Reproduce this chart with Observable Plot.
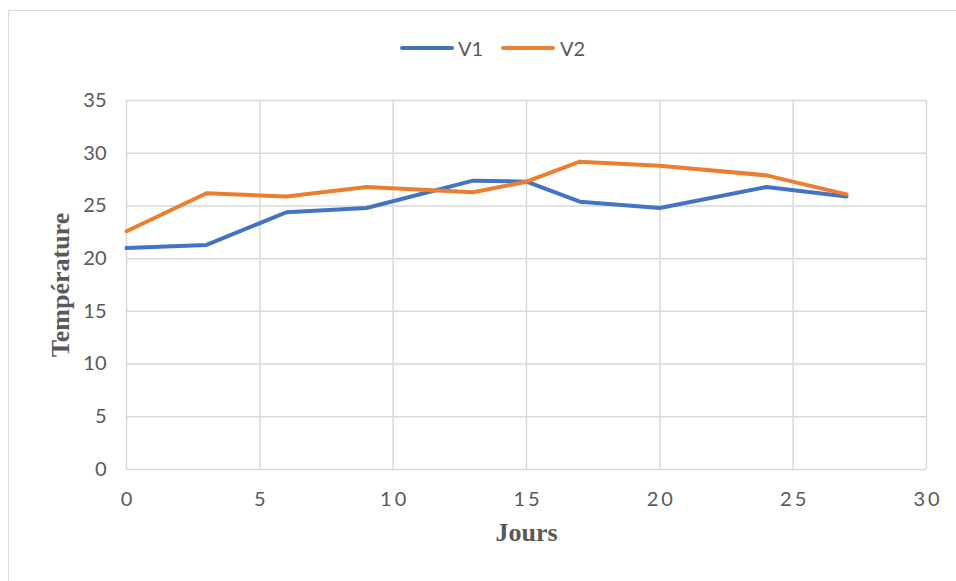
<!DOCTYPE html>
<html>
<head>
<meta charset="utf-8">
<script src="https://cdn.jsdelivr.net/npm/d3@7"></script>
<script src="https://cdn.jsdelivr.net/npm/@observablehq/plot@0.6"></script>
<style>
  html, body { margin: 0; padding: 0; background: #fff; }
  #wrap { position: relative; width: 956px; height: 581px; overflow: hidden; }
  #frame { position: absolute; left: 8px; top: 10px; width: 1000px; height: 700px;
           border: 1.5px solid #d9d9d9; box-sizing: border-box; }
  #legend { position: absolute; top: 36px; left: 0; width: 956px; height: 24px;
            font-family: Lato, sans-serif; font-size: 20px; color: #595959; }
  .swatch { position: absolute; top: 10px; width: 54px; height: 4px; border-radius: 2px; }
  .lab { position: absolute; top: 0; line-height: 24px; }
  #chart { position: absolute; left: 0; top: 0; }
</style>
</head>
<body>
<div id="wrap">
  <div id="frame"></div>
  <div id="legend"></div>
  <div id="chart"></div>
</div>
<script>
// Measurement days and the temperature readings of the two series
const jours = [0, 3, 6, 9, 13, 15, 17, 20, 24, 27];
const v1 = [21.0, 21.3, 24.4, 24.8, 27.4, 27.3, 25.4, 24.8, 26.8, 25.9];
const v2 = [22.6, 26.2, 25.9, 26.8, 26.3, 27.3, 29.2, 28.8, 27.9, 26.1];
const seriesNames = ["V1", "V2"];
const seriesColors = ["#4472C4", "#ED7D31"];
const xTicks = [0, 5, 10, 15, 20, 25, 30];
const yTicks = [0, 5, 10, 15, 20, 25, 30, 35];

const rows = [
  ...jours.map((j, i) => ({jour: j, temp: v1[i], serie: "V1"})),
  ...jours.map((j, i) => ({jour: j, temp: v2[i], serie: "V2"}))
];

const textColor = "#595959";
const gridColor = "#d9d9d9";

const chart = Plot.plot({
  width: 956,
  height: 581,
  marginLeft: 126,
  marginRight: 30,
  marginTop: 100,
  marginBottom: 112,
  style: {background: "transparent", overflow: "visible"},
  x: {domain: [0, 30]},
  y: {domain: [0, 35]},
  color: {domain: seriesNames, range: seriesColors},
  marks: [
    Plot.gridX(xTicks, {stroke: gridColor, strokeOpacity: 1, strokeWidth: 1.5}),
    Plot.gridY(yTicks, {stroke: gridColor, strokeOpacity: 1, strokeWidth: 1.5}),
    Plot.axisX(xTicks, {tickSize: 0, tickPadding: 22, fontSize: 20, fontFamily: "Lato, sans-serif",
                        fill: textColor, label: null}),
    Plot.axisY(yTicks, {tickSize: 0, tickPadding: 20, fontSize: 20, fontFamily: "Lato, sans-serif",
                        fill: textColor, label: null}),
    Plot.line(rows, {x: "jour", y: "temp", stroke: "serie", z: "serie", strokeWidth: 4,
                     strokeLinejoin: "round", strokeLinecap: "round"}),
    Plot.text(["Jours"], {frameAnchor: "bottom", dy: 71, fontSize: 26, fontWeight: "bold",
                          fontFamily: "'Liberation Serif', 'Times New Roman', serif", fill: textColor}),
    Plot.text(["Température"], {frameAnchor: "left", textAnchor: "middle", dx: -66, rotate: -90,
                                fontSize: 26, fontWeight: "bold",
                                fontFamily: "'Liberation Serif', 'Times New Roman', serif", fill: textColor})
  ]
});

// Spaced-out digits on the horizontal axis
d3.select(chart).selectAll('g[aria-label="x-axis tick label"] text')
  .attr("letter-spacing", "3px")
  .attr("dx", "1.5px");

document.getElementById("chart").appendChild(chart);

// Legend above the plot
const legend = d3.select("#legend");
const positions = [{line: 400, text: 458}, {line: 501, text: 560}];
seriesNames.forEach((name, i) => {
  legend.append("div").attr("class", "swatch")
    .style("left", positions[i].line + "px")
    .style("background", seriesColors[i]);
  legend.append("div").attr("class", "lab")
    .style("left", positions[i].text + "px")
    .text(name);
});
</script>
</body>
</html>
